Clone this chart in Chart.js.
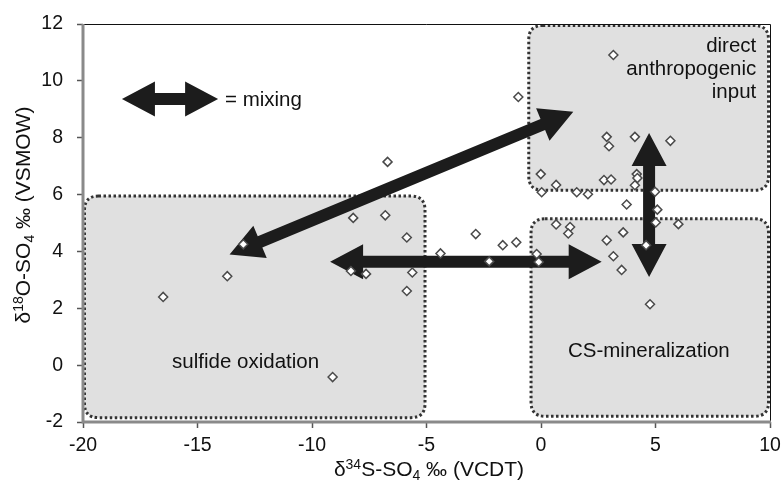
<!DOCTYPE html>
<html>
<head>
<meta charset="utf-8">
<script src="https://cdn.jsdelivr.net/npm/chart.js@4"></script>
<style>
  html, body { margin: 0; padding: 0; background: #fff; }
  #wrap { width: 784px; height: 489px; }
</style>
</head>
<body>
<div id="wrap"><canvas id="chart" width="784" height="489"></canvas></div>
<script>
// ── data ────────────────────────────────────────────────────
const xTicks = [-20, -15, -10, -5, 0, 5, 10];
const yTicks = [-2, 0, 2, 4, 6, 8, 10, 12];

const d34S = [
  -16.5, -13.7, -13.0, -9.1,
  -8.2, -8.3, -7.64, -6.7, -6.8, -5.86, -5.62, -5.86, -4.39, -2.85, -2.26, -1.67, -1.08, -0.99, -0.19, -0.1,
  3.16, 2.87, 2.97, 4.1, 5.65, -0.01, 0.66, 0.03, 1.56, 2.05, 2.75, 3.06, 4.18, 4.21, 4.1, 4.98,
  3.74, 5.08, 5.01, 6.0, 0.66, 1.27, 1.19, 3.59, 2.87, 4.59, 3.16, 3.52, 4.76,
];
const d18O = [
  2.4, 3.13, 4.25, -0.42,
  5.18, 3.31, 3.21, 7.15, 5.27, 4.49, 3.26, 2.61, 3.93, 4.61, 3.65, 4.22, 4.32, 9.43, 3.91, 3.63,
  10.91, 8.03, 7.7, 8.03, 7.89, 6.72, 6.34, 6.08, 6.08, 6.01, 6.51, 6.53, 6.72, 6.58, 6.33, 6.1,
  5.65, 5.47, 5.02, 4.96, 4.95, 4.86, 4.63, 4.67, 4.39, 4.22, 3.83, 3.35, 2.14,
];

// source regions (data units)
const regionX0 = [-20, -0.6, -0.5];
const regionX1 = [-5, 10, 10];
const regionY0 = [-1.9, 6.1, -1.85];
const regionY1 = [6.0, 12, 5.2];

// mixing arrows: tip to tip (data units)
const arrowX0 = [-18.3, -13.6, -9.21, 4.72];
const arrowY0 = [9.36, 3.89, 3.64, 8.17];
const arrowX1 = [-14.1, 1.41, 2.65, 4.72];
const arrowY1 = [9.36, 8.91, 3.64, 3.1];

// labels in the plot
const labelText = ["= mixing", "sulfide oxidation", "CS-mineralization", "direct", "anthropogenic", "input"];
const labelX = [-13.8, -12.9, 4.71, 9.4, 9.4, 9.4];
const labelY = [9.33, 0.09, 0.5, 11.2, 10.4, 9.6];
const labelAlign = ["left", "center", "center", "right", "right", "right"];

const FONT = "'Liberation Sans', Arial, Helvetica, sans-serif";

// ── helpers ─────────────────────────────────────────────────
function roundRect(ctx, x0, y0, x1, y1, r) {
  ctx.beginPath();
  ctx.moveTo(x0 + r, y0);
  ctx.lineTo(x1 - r, y0);
  ctx.quadraticCurveTo(x1, y0, x1, y0 + r);
  ctx.lineTo(x1, y1 - r);
  ctx.quadraticCurveTo(x1, y1, x1 - r, y1);
  ctx.lineTo(x0 + r, y1);
  ctx.quadraticCurveTo(x0, y1, x0, y1 - r);
  ctx.lineTo(x0, y0 + r);
  ctx.quadraticCurveTo(x0, y0, x0 + r, y0);
  ctx.closePath();
}

function doubleArrow(ctx, x0, y0, x1, y1, w, hw, hl) {
  const dx = x1 - x0, dy = y1 - y0, L = Math.hypot(dx, dy);
  const ux = dx / L, uy = dy / L, nx = -uy, ny = ux;
  const b0x = x0 + ux * hl, b0y = y0 + uy * hl;
  const b1x = x1 - ux * hl, b1y = y1 - uy * hl;
  const pts = [
    [x0, y0],
    [b0x + nx * hw / 2, b0y + ny * hw / 2],
    [b0x + nx * w / 2,  b0y + ny * w / 2],
    [b1x + nx * w / 2,  b1y + ny * w / 2],
    [b1x + nx * hw / 2, b1y + ny * hw / 2],
    [x1, y1],
    [b1x - nx * hw / 2, b1y - ny * hw / 2],
    [b1x - nx * w / 2,  b1y - ny * w / 2],
    [b0x - nx * w / 2,  b0y - ny * w / 2],
    [b0x - nx * hw / 2, b0y - ny * hw / 2],
  ];
  ctx.beginPath();
  pts.forEach((p, i) => i ? ctx.lineTo(p[0], p[1]) : ctx.moveTo(p[0], p[1]));
  ctx.closePath();
  ctx.fill();
}

// rich text: segments with optional sup / sub, centered on cx, baseline at by
function richText(ctx, segs, cx, by) {
  const big = "21px " + FONT, small = "14px " + FONT;
  let total = 0;
  segs.forEach(s => { ctx.font = s.sup || s.sub ? small : big; total += ctx.measureText(s.t).width; });
  let x = cx - total / 2;
  ctx.textBaseline = "alphabetic";
  ctx.textAlign = "left";
  segs.forEach(s => {
    ctx.font = s.sup || s.sub ? small : big;
    const off = s.sup ? -7 : s.sub ? 4 : 0;
    ctx.fillText(s.t, x, by + off);
    x += ctx.measureText(s.t).width;
  });
}

// ── plugin: regions, arrows, labels, frame, axis titles ────
const decor = {
  id: "decor",
  beforeDatasetsDraw(chart) {
    const { ctx, scales: { x, y } } = chart;
    ctx.save();
    // regions
    regionX0.forEach((_, i) => {
      const px0 = x.getPixelForValue(regionX0[i]) + 1.5, px1 = x.getPixelForValue(regionX1[i]) - 1.5;
      const py0 = y.getPixelForValue(regionY1[i]) + 1.5, py1 = y.getPixelForValue(regionY0[i]) - 1.5;
      roundRect(ctx, px0, py0, px1, py1, 14);
      ctx.fillStyle = "#e0e0e0";
      ctx.fill();
      ctx.setLineDash([2.5, 2.5]);
      ctx.lineWidth = 3;
      ctx.strokeStyle = "#333";
      ctx.stroke();
      ctx.setLineDash([]);
    });
    // frame
    const a = chart.chartArea;
    ctx.strokeStyle = "#111";
    ctx.lineWidth = 1;
    ctx.beginPath();
    ctx.moveTo(a.left, a.top + 0.5); ctx.lineTo(a.right + 0.5, a.top + 0.5); ctx.lineTo(a.right + 0.5, a.bottom);
    ctx.stroke();
    ctx.strokeStyle = "#8a8a8a";
    ctx.lineWidth = 3;
    ctx.beginPath();
    ctx.moveTo(a.left, a.top); ctx.lineTo(a.left, a.bottom); ctx.lineTo(a.right + 1, a.bottom);
    ctx.stroke();
    // arrows
    ctx.fillStyle = "#1c1c1c";
    arrowX0.forEach((_, i) => {
      doubleArrow(ctx,
        x.getPixelForValue(arrowX0[i]), y.getPixelForValue(arrowY0[i]),
        x.getPixelForValue(arrowX1[i]), y.getPixelForValue(arrowY1[i]),
        12, 35, 33);
    });
    // labels
    ctx.fillStyle = "#111";
    ctx.font = "20.5px " + FONT;
    ctx.textBaseline = "middle";
    labelText.forEach((t, i) => {
      ctx.textAlign = labelAlign[i];
      ctx.fillText(t, x.getPixelForValue(labelX[i]), y.getPixelForValue(labelY[i]));
    });
    ctx.restore();
  },
  afterDraw(chart) {
    const { ctx } = chart;
    ctx.save();
    ctx.fillStyle = "#111";
    richText(ctx, [{ t: "\u03b4" }, { t: "34", sup: true }, { t: "S-SO" }, { t: "4", sub: true }, { t: " \u2030 (VCDT)" }],
      429, 476);
    ctx.translate(30, 215);
    ctx.rotate(-Math.PI / 2);
    richText(ctx, [{ t: "\u03b4" }, { t: "18", sup: true }, { t: "O-SO" }, { t: "4", sub: true }, { t: " \u2030 (VSMOW)" }], 0, 0);
    ctx.restore();
  },
};

// ── chart ───────────────────────────────────────────────────
new Chart(document.getElementById("chart").getContext("2d"), {
  type: "scatter",
  data: {
    datasets: [{
      data: d34S.map((v, i) => ({ x: v, y: d18O[i] })),
      pointStyle: "rectRot",
      pointRadius: 4.5,
      pointBackgroundColor: "#fff",
      pointBorderColor: "#4a4a4a",
      pointBorderWidth: 1.5,
    }],
  },
  options: {
    responsive: false,
    animation: false,
    events: [],
    layout: { padding: { top: 24, right: 14, left: 0, bottom: 0 } },
    plugins: { legend: { display: false }, tooltip: { enabled: false } },
    scales: {
      x: {
        type: "linear", min: -20, max: 10,
        afterBuildTicks: s => { s.ticks = xTicks.map(v => ({ value: v })); },
        afterFit: s => { s.height = 67; s.paddingLeft = 0; s.paddingRight = 0; },
        border: { display: false },
        grid: { drawOnChartArea: false, tickLength: 6, tickColor: "#555", tickWidth: 1.5 },
        ticks: { color: "#111", padding: 6, maxRotation: 0, font: { size: 19.5, family: FONT } },
      },
      y: {
        type: "linear", min: -2, max: 12,
        afterBuildTicks: s => { s.ticks = yTicks.map(v => ({ value: v })); },
        afterFit: s => { s.width = 83; s.paddingTop = 0; s.paddingBottom = 0; },
        border: { display: false },
        grid: { drawOnChartArea: false, tickLength: 6, tickColor: "#555", tickWidth: 1.5 },
        ticks: { color: "#111", padding: 14, font: { size: 19.5, family: FONT } },
      },
    },
  },
  plugins: [decor],
});
</script>
</body>
</html>
